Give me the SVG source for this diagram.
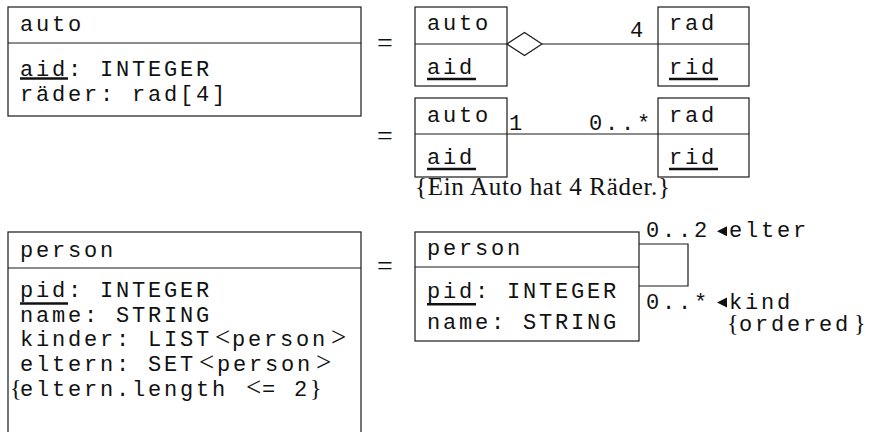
<svg xmlns="http://www.w3.org/2000/svg" width="869" height="432" viewBox="0 0 869 432">
<style>
.box{fill:#fff;stroke:#1a1a1a;stroke-width:1.2}
.ln{fill:none;stroke:#1a1a1a;stroke-width:1.2}
.mono{font-family:"Liberation Mono","DejaVu Sans Mono",monospace;font-size:22px;letter-spacing:2.8px;fill:#111}
.ser{font-family:"Liberation Serif","DejaVu Serif",serif;fill:#111}
.math{font-family:"Liberation Serif","DejaVu Serif",serif;font-size:27px;letter-spacing:0}
.brace{font-family:"Liberation Serif","DejaVu Serif",serif;font-size:24px;letter-spacing:0}
.ul{stroke:#111;stroke-width:2.4}
.eq{font-family:"Liberation Serif","DejaVu Serif",serif;font-size:28px;fill:#111;text-anchor:middle}
</style>
<rect width="869" height="432" fill="#fff"/>

<g id="auto1">
<rect class="box" x="8" y="7" width="353" height="109"/>
<line class="ln" x1="8" y1="43" x2="361" y2="43"/>
<text class="mono" x="20" y="30.5">auto</text>
<text class="mono" x="20" y="76">aid: INTEGER</text>
<line class="ul" x1="20" y1="78.5" x2="68" y2="78.5"/>
<text class="mono" x="20" y="100.5">räder: rad[4]</text>
</g>

<g id="equals">
<text class="eq" x="385" y="51.5">=</text>
<text class="eq" x="385" y="145">=</text>
<text class="eq" x="385" y="275">=</text>
</g>

<g id="auto2">
<rect class="box" x="415" y="7" width="92" height="79"/>
<line class="ln" x1="415" y1="44" x2="507" y2="44"/>
<text class="mono" x="427" y="30">auto</text>
<text class="mono" x="427" y="74">aid</text>
<line class="ul" x1="427" y1="79" x2="476" y2="79"/>
</g>

<g id="rad1">
<rect class="box" x="658" y="7" width="91" height="79"/>
<line class="ln" x1="658" y1="44" x2="749" y2="44"/>
<text class="mono" x="669" y="30">rad</text>
<text class="mono" x="669" y="74">rid</text>
<line class="ul" x1="669" y1="79" x2="718" y2="79"/>
</g>

<g id="auto3">
<rect class="box" x="415" y="98" width="92" height="79"/>
<line class="ln" x1="415" y1="134" x2="507" y2="134"/>
<text class="mono" x="427" y="121.5">auto</text>
<text class="mono" x="427" y="164">aid</text>
<line class="ul" x1="427" y1="169" x2="476" y2="169"/>
</g>

<g id="rad2">
<rect class="box" x="658" y="98" width="91" height="79"/>
<line class="ln" x1="658" y1="134" x2="749" y2="134"/>
<text class="mono" x="669" y="121.5">rad</text>
<text class="mono" x="669" y="164">rid</text>
<line class="ul" x1="669" y1="169" x2="718" y2="169"/>
</g>

<g id="constraint1">
<text class="ser" x="415" y="195" font-size="25" textLength="255" lengthAdjust="spacing">{Ein Auto hat 4 Räder.}</text>
</g>

<g id="person1">
<rect class="box" x="8" y="232" width="353" height="215"/>
<line class="ln" x1="8" y1="268" x2="361" y2="268"/>
<text class="mono" x="20" y="256.5">person</text>
<text class="mono" x="20" y="297">pid: INTEGER</text>
<line class="ul" x1="20" y1="303.5" x2="68" y2="303.5"/>
<text class="mono" x="20" y="321.7">name: STRING</text>
<text class="mono" y="346"><tspan x="20">kinder: LIST</tspan><tspan class="math" x="215">&lt;</tspan><tspan x="232">person</tspan><tspan class="math" x="331">&gt;</tspan></text>
<text class="mono" y="371"><tspan x="20">eltern: SET</tspan><tspan class="math" x="199">&lt;</tspan><tspan x="217">person</tspan><tspan class="math" x="316">&gt;</tspan></text>
<text class="mono" y="396"><tspan class="brace" x="10">{</tspan><tspan x="20">eltern.length</tspan><tspan class="math" x="246">&lt;</tspan><tspan x="262">=</tspan><tspan x="294">2</tspan><tspan class="brace" x="310">}</tspan></text>
</g>

<g id="person2">
<rect class="box" x="415" y="232" width="224" height="109"/>
<line class="ln" x1="415" y1="267" x2="639" y2="267"/>
<text class="mono" x="427" y="255">person</text>
<text class="mono" x="427" y="298">pid: INTEGER</text>
<line class="ul" x1="427" y1="304.3" x2="476" y2="304.3"/>
<text class="mono" x="427" y="328.5">name: STRING</text>
</g>

<g id="connectors">
<polygon points="507,44 524.5,32.5 542,44 524.5,55.5" fill="#fff" stroke="#1a1a1a" stroke-width="1.2"/>
<line class="ln" x1="542" y1="44" x2="658" y2="44"/>
<text class="mono" x="630" y="37">4</text>
<line class="ln" x1="507" y1="134" x2="658" y2="134"/>
<text class="mono" x="509" y="130">1</text>
<text class="mono" x="589" y="130">0..*</text>
<polyline class="ln" points="639,244 688,244 688,286 639,286"/>
<text class="mono" x="646" y="236.5">0..2</text>
<polygon points="717,231.2 727,226.2 727,236.2" fill="#111"/>
<text class="mono" x="729" y="236.5">elter</text>
<text class="mono" x="646" y="309">0..*</text>
<polygon points="717,302.5 727,297.5 727,307.5" fill="#111"/>
<text class="mono" x="729" y="309">kind</text>
<text class="mono" y="331"><tspan class="brace" x="727">{</tspan><tspan x="739">ordered</tspan><tspan class="brace" x="854">}</tspan></text>
</g>
</svg>
